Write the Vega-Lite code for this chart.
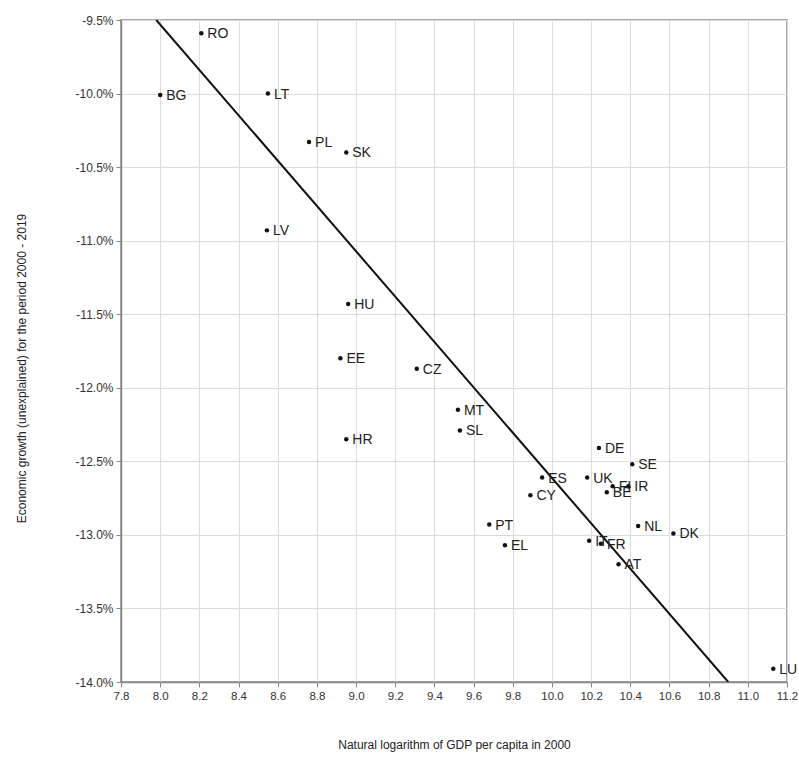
{
  "$schema": "https://vega.github.io/schema/vega-lite/v6.json",
  "width": 666,
  "height": 662,
  "autosize": {"type": "none"},
  "padding": {"left": 121, "top": 20, "right": 12, "bottom": 80},
  "background": "white",
  "config": {
    "font": "Liberation Sans",
    "view": {"stroke": "#888888", "strokeWidth": 1.5},
    "axis": {
      "gridColor": "#dcdcdc",
      "gridWidth": 1,
      "domainColor": "#888888",
      "domainWidth": 1.5,
      "tickColor": "#888888",
      "tickSize": 5,
      "labelFont": "Liberation Sans",
      "labelFontSize": 12,
      "labelColor": "#333333",
      "titleFont": "Liberation Sans",
      "titleFontSize": 12,
      "titleFontWeight": "normal",
      "titleColor": "#222222"
    }
  },
  "datasets": {
    "countries": [
      {"code": "RO", "lngdp": 8.21, "growth": -9.59},
      {"code": "BG", "lngdp": 8.00, "growth": -10.01},
      {"code": "LT", "lngdp": 8.55, "growth": -10.00},
      {"code": "PL", "lngdp": 8.76, "growth": -10.33},
      {"code": "SK", "lngdp": 8.95, "growth": -10.40},
      {"code": "LV", "lngdp": 8.545, "growth": -10.93},
      {"code": "HU", "lngdp": 8.96, "growth": -11.43},
      {"code": "EE", "lngdp": 8.92, "growth": -11.80},
      {"code": "CZ", "lngdp": 9.31, "growth": -11.87},
      {"code": "MT", "lngdp": 9.52, "growth": -12.15},
      {"code": "SL", "lngdp": 9.53, "growth": -12.29},
      {"code": "HR", "lngdp": 8.95, "growth": -12.35},
      {"code": "DE", "lngdp": 10.24, "growth": -12.41},
      {"code": "SE", "lngdp": 10.41, "growth": -12.52},
      {"code": "ES", "lngdp": 9.95, "growth": -12.61},
      {"code": "UK", "lngdp": 10.18, "growth": -12.61},
      {"code": "FI", "lngdp": 10.31, "growth": -12.67},
      {"code": "IR", "lngdp": 10.39, "growth": -12.67},
      {"code": "BE", "lngdp": 10.28, "growth": -12.71},
      {"code": "CY", "lngdp": 9.89, "growth": -12.73},
      {"code": "PT", "lngdp": 9.68, "growth": -12.93},
      {"code": "NL", "lngdp": 10.44, "growth": -12.94},
      {"code": "DK", "lngdp": 10.62, "growth": -12.99},
      {"code": "EL", "lngdp": 9.76, "growth": -13.07},
      {"code": "IT", "lngdp": 10.19, "growth": -13.04},
      {"code": "FR", "lngdp": 10.25, "growth": -13.06},
      {"code": "AT", "lngdp": 10.34, "growth": -13.20},
      {"code": "LU", "lngdp": 11.13, "growth": -13.91}
    ],
    "fit": [
      {"lngdp": 7.98, "growth": -9.5},
      {"lngdp": 10.9, "growth": -14.0}
    ],
    "note": [
      {"label": "Correlation coefficient: -0.90"}
    ]
  },
  "encoding": {
    "x": {
      "field": "lngdp", "type": "quantitative",
      "scale": {"domain": [7.8, 11.2], "nice": false, "zero": false},
      "axis": {
        "values": [7.8, 8.0, 8.2, 8.4, 8.6, 8.8, 9.0, 9.2, 9.4, 9.6, 9.8, 10.0, 10.2, 10.4, 10.6, 10.8, 11.0, 11.2],
        "labelExpr": "format(datum.value, '.1f')",
        "labelOverlap": false,
        "labelFlush": false,
        "labelBound": false,
        "labelSeparation": 0,
        "labelFontSize": 11.5,
        "title": "Natural logarithm of GDP per capita in 2000",
        "titlePadding": 38,
        "labelPadding": 3
      }
    },
    "y": {
      "field": "growth", "type": "quantitative",
      "scale": {"domain": [-14.0, -9.5], "nice": false, "zero": false},
      "axis": {
        "values": [-14.0, -13.5, -13.0, -12.5, -12.0, -11.5, -11.0, -10.5, -10.0, -9.5],
        "labelExpr": "'-' + format(-datum.value, '.1f') + '%'",
        "labelOverlap": false,
        "labelFlush": false,
        "title": "Economic growth (unexplained) for the period 2000 - 2019",
        "titleY": 348,
        "titlePadding": 46,
        "labelPadding": 3
      }
    }
  },
  "layer": [
    {
      "data": {"name": "fit"},
      "mark": {"type": "line", "color": "#111111", "strokeWidth": 2, "clip": true}
    },
    {
      "data": {"name": "countries"},
      "mark": {"type": "point", "filled": true, "color": "#111111", "size": 20, "opacity": 1}
    },
    {
      "data": {"name": "countries"},
      "mark": {"type": "text", "align": "left", "baseline": "middle", "dx": 6, "dy": 1, "fontSize": 14, "color": "#222222", "font": "Liberation Sans"},
      "encoding": {
        "text": {"field": "code"}
      }
    },
    {
      "data": {"name": "note"},
      "mark": {"type": "rect", "fill": "white", "stroke": "#666666", "strokeWidth": 1.5},
      "encoding": {
        "x": {"datum": 9.443, "type": "quantitative"},
        "x2": {"datum": 11.11},
        "y": {"datum": -9.656, "type": "quantitative"},
        "y2": {"datum": -9.921}
      }
    },
    {
      "data": {"name": "note"},
      "mark": {"type": "text", "align": "center", "baseline": "middle", "fontSize": 21, "color": "#222222", "font": "Liberation Sans"},
      "encoding": {
        "x": {"datum": 10.277, "type": "quantitative"},
        "y": {"datum": -9.79, "type": "quantitative"},
        "text": {"field": "label"}
      }
    }
  ]
}
